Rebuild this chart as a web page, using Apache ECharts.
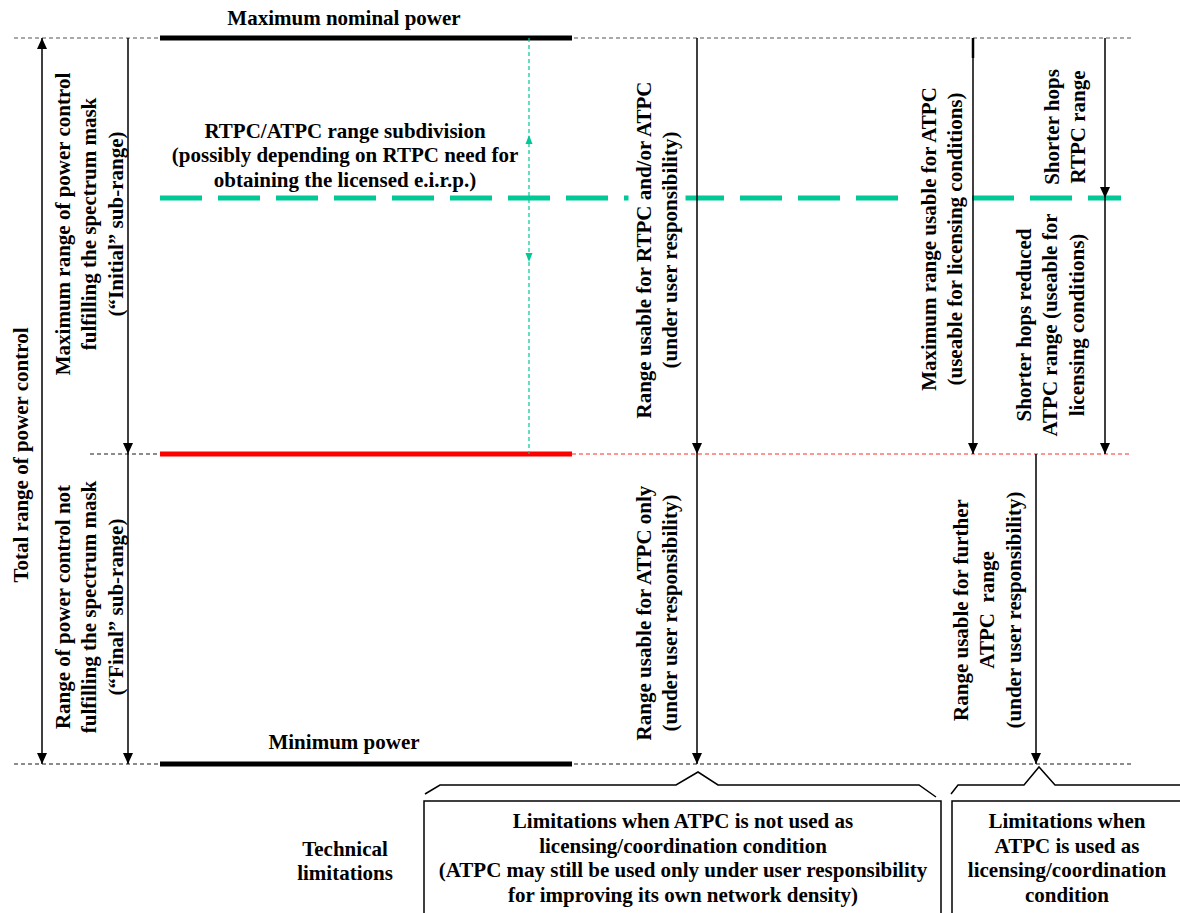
<!DOCTYPE html>
<html>
<head>
<meta charset="utf-8">
<script src="https://cdn.jsdelivr.net/npm/echarts@6/dist/echarts.min.js"></script>
<style>
html,body{margin:0;padding:0;background:#fff;}
#chart{width:1180px;height:913px;}
</style>
</head>
<body>
<div id="chart"></div>
<script>
// ---------------- data (diagram units: x across, y = power level, 0 at top) ----------------
const levelNames = ['Maximum nominal power', 'RTPC/ATPC subdivision', 'Spectrum mask limit', 'Minimum power'];
const levelY = [38, 198, 454, 764];

// horizontal level lines: start x, end x, level index, kind
const hLineX1 = [14, 90, 572, 14, 160, 160, 160, 160];
const hLineX2 = [1132, 160, 1132, 1132, 572, 572, 572, 1121];
const hLineLevel = [0, 2, 2, 3, 0, 2, 3, 1];
const hLineKind = ['guideGray', 'guideBlack', 'guideRed', 'guideBlack', 'barBlack', 'barRed', 'barBlack', 'green'];

// vertical range arrows: x position, from level, to level, heads ('end' | 'both' | 'none')
const arrowX = [42, 128, 128, 697, 697, 973, 1105, 1105, 1036];
const arrowFrom = [0, 0, 2, 0, 2, 0, 0, 1, 2];
const arrowTo = [3, 2, 3, 2, 3, 2, 1, 2, 3];
const arrowHeads = ['both', 'end', 'end', 'end', 'end', 'end', 'end', 'end', 'end'];

// RTPC/ATPC subdivision marker (green dashed double arrow)
const subdivX = 529;
const subdivHeadY = [135, 262];

// text labels
const textLabels = [
  'Maximum nominal power',
  'Minimum power',
  'RTPC/ATPC range subdivision\n(possibly depending on RTPC need for\nobtaining the licensed e.i.r.p.)',
  'Total range of power control',
  'Maximum range of power control\nfulfilling the spectrum mask\n(\u201cInitial\u201d sub-range)',
  'Range of power control not\nfulfilling the spectrum mask\n(\u201cFinal\u201d sub-range)',
  'Range usable for RTPC and/or ATPC\n(under user responsibility)',
  'Range usable for ATPC only\n(under user responsibility)',
  'Maximum range usable for ATPC\n(useable for licensing conditions)',
  'Shorter hops\nRTPC range',
  'Shorter hops reduced\nATPC range (useable for\nlicensing conditions)',
  'Range usable for further\nATPC  range\n(under user responsibility)',
  'Technical\nlimitations',
  'Limitations when ATPC is not used as\nlicensing/coordination condition\n(ATPC may still be used only under user responsibility\nfor improving its own network density)',
  'Limitations when\nATPC is used as\nlicensing/coordination\ncondition'
];
const textX = [344, 344, 345, 21, 89, 89, 657, 657, 942, 1065, 1050, 987, 345, 683, 1067];
const textY = [18, 742, 155, 455, 224, 607, 250, 613, 239, 127, 325, 610, 861, 858, 858];
const textVertical = [0, 0, 0, 1, 1, 1, 1, 1, 1, 1, 1, 1, 0, 0, 0];
const textMasked = [0, 0, 0, 0, 0, 0, 1, 0, 1, 0, 0, 0, 0, 0, 0];

// bottom braces and boxes
const brace1 = [[425, 794], [440, 785], [676, 785], [698, 772], [718, 785], [919, 785], [936, 797]];
const brace2 = [[951, 794], [958, 785], [1024, 785], [1039, 767], [1055, 785], [1180, 785]];
const boxX1 = [424, 952];
const boxX2 = [941, 1190];
const boxY1 = [801, 801];
const boxY2 = [920, 920];

// ---------------- styles ----------------
const FONT = 'bold 21px "Liberation Serif", "Times New Roman", serif';
const hStyles = {
  guideGray: {stroke: '#555', lineWidth: 1.2, lineDash: [4, 3], fill: null},
  guideBlack: {stroke: '#1a1a1a', lineWidth: 1.2, lineDash: [4, 3], fill: null},
  guideRed: {stroke: '#ff2a2a', lineWidth: 1.2, lineDash: [4, 3], fill: null},
  barBlack: {stroke: '#000', lineWidth: 5, fill: null},
  barRed: {stroke: '#ff0000', lineWidth: 5, fill: null},
  green: {stroke: '#00c896', lineWidth: 5, lineDash: [42, 16], fill: null}
};

function head(tip, dir, w, h, color) {
  return {
    type: 'polygon',
    shape: {points: [[tip[0], tip[1]], [tip[0] - w / 2, tip[1] - dir * h], [tip[0] + w / 2, tip[1] - dir * h]]},
    style: {fill: color, stroke: null}
  };
}

const chart = echarts.init(document.getElementById('chart'), null, {renderer: 'svg'});
chart.setOption({
  animation: false,
  backgroundColor: '#fff',
  grid: {left: 0, right: 0, top: 0, bottom: 0, containLabel: false},
  xAxis: {type: 'value', min: 0, max: 1180, show: false},
  yAxis: {type: 'value', min: 0, max: 913, inverse: true, show: false},
  series: [
    { // level lines
      type: 'custom', coordinateSystem: 'cartesian2d', silent: true, clip: false,
      data: hLineX1.map((x1, i) => [x1, hLineX2[i], levelY[hLineLevel[i]]]),
      encode: {x: [0, 1], y: 2},
      renderItem(params, api) {
        const a = api.coord([api.value(0), api.value(2)]);
        const b = api.coord([api.value(1), api.value(2)]);
        return {type: 'line', shape: {x1: a[0], y1: a[1], x2: b[0], y2: b[1]},
          style: hStyles[hLineKind[params.dataIndex]]};
      }
    },
    { // green subdivision double arrow
      type: 'custom', coordinateSystem: 'cartesian2d', silent: true, clip: false,
      data: [[subdivX, levelY[0], levelY[2], subdivHeadY[0], subdivHeadY[1]]],
      encode: {x: 0, y: [1, 2]},
      renderItem(params, api) {
        const a = api.coord([api.value(0), api.value(1)]);
        const b = api.coord([api.value(0), api.value(2)]);
        const h1 = api.coord([api.value(0), api.value(3)]);
        const h2 = api.coord([api.value(0), api.value(4)]);
        return {type: 'group', children: [
          {type: 'line', shape: {x1: a[0], y1: a[1], x2: b[0], y2: b[1]},
            style: {stroke: '#00c896', lineWidth: 1.2, lineDash: [4, 3], fill: null}},
          head(h1, -1, 7, 9, '#00c896'),
          head(h2, 1, 7, 9, '#00c896')
        ]};
      }
    },
    { // text labels
      type: 'custom', coordinateSystem: 'cartesian2d', silent: true, clip: false,
      data: textX.map((x, i) => [x, textY[i]]),
      encode: {x: 0, y: 1},
      renderItem(params, api) {
        const i = params.dataIndex;
        const p = api.coord([api.value(0), api.value(1)]);
        const vert = textVertical[i] === 1;
        const style = {
          text: textLabels[i], font: FONT, fill: '#000',
          align: 'center', verticalAlign: 'middle',
          lineHeight: vert ? 26.5 : 24.5
        };
        if (textMasked[i]) { style.backgroundColor = '#fff'; style.padding = [2, 6]; }
        return {type: 'text', x: p[0], y: p[1], rotation: vert ? Math.PI / 2 : 0, style};
      }
    },
    { // range arrows
      type: 'custom', coordinateSystem: 'cartesian2d', silent: true, clip: false,
      data: arrowX.map((x, i) => [x, levelY[arrowFrom[i]], levelY[arrowTo[i]]]),
      encode: {x: 0, y: [1, 2]},
      renderItem(params, api) {
        const i = params.dataIndex;
        const a = api.coord([api.value(0), api.value(1)]);
        const b = api.coord([api.value(0), api.value(2)]);
        const dir = b[1] > a[1] ? 1 : -1;
        const children = [{type: 'line', shape: {x1: a[0], y1: a[1], x2: b[0], y2: b[1]},
          style: {stroke: '#000', lineWidth: 1.5, fill: null}}];
        if (arrowHeads[i] === 'end' || arrowHeads[i] === 'both') children.push(head(b, dir, 10, 11, '#000'));
        if (arrowHeads[i] === 'both') children.push(head(a, -dir, 10, 11, '#000'));
        if (i === 5) { // heavier top stub of the licensing range line
          const s = api.coord([api.value(0), api.value(1) + 20]);
          children.push({type: 'line', shape: {x1: a[0], y1: a[1], x2: s[0], y2: s[1]},
            style: {stroke: '#000', lineWidth: 2.5, fill: null}});
        }
        return {type: 'group', children};
      }
    },
    { // braces
      type: 'custom', coordinateSystem: 'cartesian2d', silent: true, clip: false,
      data: [0, 1].map(k => [(k ? brace2 : brace1)[0][0], (k ? brace2 : brace1)[0][1]]),
      encode: {x: 0, y: 1},
      renderItem(params, api) {
        const pts = (params.dataIndex ? brace2 : brace1).map(p => api.coord(p));
        return {type: 'polyline', shape: {points: pts}, style: {stroke: '#000', lineWidth: 1.5, fill: null}};
      }
    },
    { // boxes
      type: 'custom', coordinateSystem: 'cartesian2d', silent: true, clip: false,
      data: boxX1.map((x, i) => [x, boxY1[i], boxX2[i], boxY2[i]]),
      encode: {x: [0, 2], y: [1, 3]},
      renderItem(params, api) {
        const a = api.coord([api.value(0), api.value(1)]);
        const b = api.coord([api.value(2), api.value(3)]);
        return {type: 'rect', shape: {x: a[0], y: a[1], width: b[0] - a[0], height: b[1] - a[1]},
          style: {stroke: '#000', lineWidth: 1.5, fill: null}};
      }
    }
  ]
});
</script>
</body>
</html>
